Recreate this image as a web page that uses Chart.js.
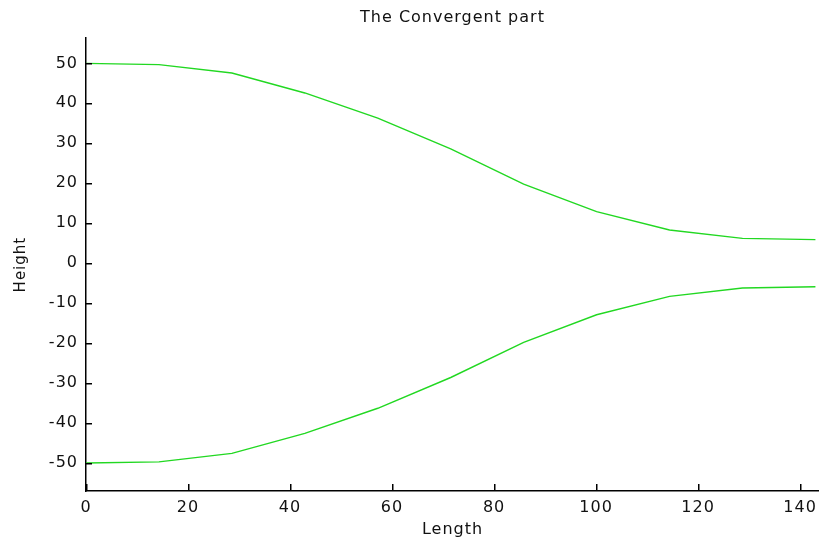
<!DOCTYPE html>
<html>
<head>
<meta charset="utf-8">
<title>The Convergent part</title>
<script src="https://cdn.jsdelivr.net/npm/chart.js@4"></script>
<style>
  html, body { margin: 0; padding: 0; background: #fff; }
  #wrap { width: 819px; height: 542px; position: relative; }
</style>
</head>
<body>
<div id="wrap"><canvas id="chart"></canvas></div>
<script>
// nozzle profile
const lengths = [0, 14.3, 28.6, 42.9, 57.2, 71.5, 85.8, 100.1, 114.4, 128.7, 143];
const upperWall = [50, 49.7, 47.6, 42.6, 36.3, 28.6, 19.8, 12.9, 8.3, 6.2, 5.9];
const lowerWall = [-50, -49.7, -47.6, -42.6, -36.3, -28.6, -19.8, -12.9, -8.3, -6.2, -5.9];

const xRange = [0, 143.7];
const yRange = [-57, 56.3];
const xStep = 20;
const yStep = 10;

const FONT = 'DejaVu Sans';
const INK = '#111';
const GREEN = '#22d822';

function toPoints(ys) {
    return lengths.map((x, i) => ({ x: x, y: ys[i] }));
}

// wider text, like the original
const spacing = {
    id: 'spacing',
    beforeLayout(chart) { chart.ctx.letterSpacing = '1px'; },
    beforeDraw(chart) { chart.ctx.letterSpacing = '1px'; }
};

// inward tick marks, placed with the scales
const innerTicks = {
    id: 'innerTicks',
    afterDraw(chart) {
        const ctx = chart.ctx;
        const area = chart.chartArea;
        const xs = chart.scales.x, ys = chart.scales.y;
        ctx.save();
        ctx.fillStyle = '#000';
        for (const t of xs.ticks) {
            const px = Math.round(xs.getPixelForValue(t.value));
            ctx.fillRect(px, area.bottom - 7, 1.5, 7);
        }
        for (const t of ys.ticks) {
            const py = Math.round(ys.getPixelForValue(t.value));
            ctx.fillRect(area.left, py, 6, 1.5);
        }
        ctx.restore();
    }
};

new Chart(document.getElementById('chart'), {
    type: 'line',
    data: {
        datasets: [
            { label: 'upper', data: toPoints(upperWall) },
            { label: 'lower', data: toPoints(lowerWall) }
        ]
    },
    options: {
        responsive: true,
        maintainAspectRatio: false,
        animation: false,
        layout: { padding: 0 },
        elements: {
            line: { borderColor: GREEN, borderWidth: 1.4, tension: 0, fill: false },
            point: { radius: 0, hoverRadius: 0 }
        },
        plugins: {
            legend: { display: false },
            tooltip: { enabled: false },
            title: {
                display: true,
                fullSize: false,
                text: 'The Convergent part',
                color: INK,
                font: { family: FONT, size: 16, weight: 'normal' },
                padding: { top: 8, bottom: 11 }
            }
        },
        scales: {
            x: {
                type: 'linear',
                min: xRange[0],
                max: xRange[1],
                grid: { display: false, drawTicks: false },
                border: { display: true, color: '#000', width: 1.5 },
                ticks: {
                    stepSize: xStep,
                    includeBounds: false,
                    maxRotation: 0,
                    padding: 7,
                    color: INK,
                    font: { family: FONT, size: 16 }
                },
                title: {
                    display: true,
                    text: 'Length',
                    color: INK,
                    font: { family: FONT, size: 16 },
                    padding: { top: 0, bottom: 3 }
                },
                afterFit(scale) {
                    scale.height = 51;
                    scale.paddingLeft = 0;
                    scale.paddingRight = 0;
                }
            },
            y: {
                min: yRange[0],
                max: yRange[1],
                grid: { display: false, drawTicks: false },
                border: { display: true, color: '#000', width: 1.5 },
                ticks: {
                    stepSize: yStep,
                    includeBounds: false,
                    padding: 8,
                    color: INK,
                    font: { family: FONT, size: 16 }
                },
                title: {
                    display: true,
                    text: 'Height',
                    color: INK,
                    font: { family: FONT, size: 15 },
                    padding: { top: 12, bottom: 0 }
                },
                afterFit(scale) {
                    scale.width = 86;
                    scale.paddingTop = 0;
                    scale.paddingBottom = 0;
                }
            }
        }
    },
    plugins: [spacing, innerTicks]
});
</script>
</body>
</html>
